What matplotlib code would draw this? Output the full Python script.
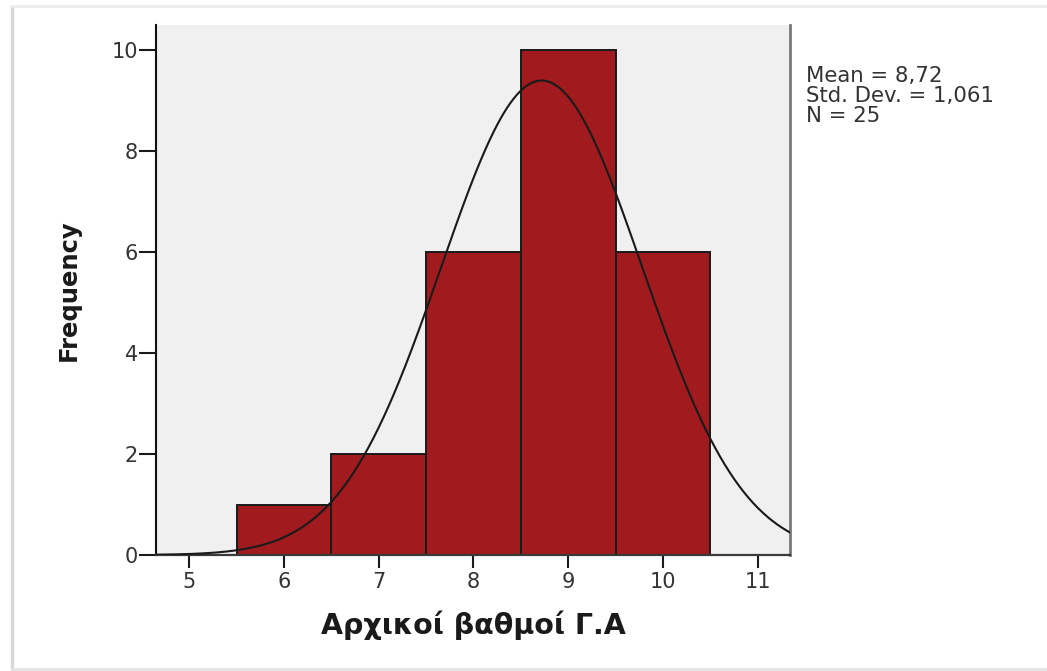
import numpy as np
import matplotlib
matplotlib.use("Agg")
import matplotlib.pyplot as plt
from matplotlib.lines import Line2D

# Data
bin_edges = [5.5, 6.5, 7.5, 8.5, 9.5, 10.5]
frequencies = [1, 2, 6, 10, 6]
mean_val = 8.72
std_val = 1.061
n_val = 25
x_ticks = [5, 6, 7, 8, 9, 10, 11]
y_ticks = [0, 2, 4, 6, 8, 10]
x_label = "Αρχικοί βαθμοί Γ.Α"
y_label = "Frequency"
stats_lines = ["Mean = 8,72", "Std. Dev. = 1,061", "N = 25"]

plt.rcParams['font.family'] = ['DejaVu Sans']

W, H = 1047, 671
fig = plt.figure(figsize=(W / 100, H / 100), dpi=100)
fig.patch.set_facecolor('white')

def fx(px):
    return px / W

def fy(py):
    return 1 - py / H

ax = fig.add_axes([fx(156), fy(555), fx(790) - fx(156), fy(25) - fy(555)])
ax.set_facecolor('#f0f0f0')

widths = np.diff(bin_edges)
ax.bar(bin_edges[:-1], frequencies, width=widths, align='edge',
       color='#a01a1e', edgecolor='#1a1a1a', linewidth=1.4, zorder=2)

xmin, xmax = 4.65, 11.34
xs = np.linspace(xmin, xmax, 400)
bw = widths[0]
ys = n_val * bw / (std_val * np.sqrt(2 * np.pi)) * np.exp(-0.5 * ((xs - mean_val) / std_val) ** 2)
ax.plot(xs, ys, color='#1a1a1a', linewidth=1.5, zorder=3)

ax.set_xlim(xmin, xmax)
ax.set_ylim(0, 10.5)
ax.set_xticks(x_ticks)
ax.set_yticks(y_ticks)
ax.tick_params(axis='both', direction='out', width=1.5, color='#1a1a1a',
               labelsize=15, labelcolor='#333333')
ax.tick_params(axis='x', length=9.4, pad=3)
ax.tick_params(axis='y', length=12, pad=1)

ax.spines['top'].set_visible(False)
ax.spines['left'].set_color('#111111')
ax.spines['left'].set_linewidth(1.5)
ax.spines['bottom'].set_color('#3a3a3a')
ax.spines['bottom'].set_linewidth(1.6)
ax.spines['right'].set_color('#7a7a7a')
ax.spines['right'].set_linewidth(2)

ax.set_xlabel(x_label, fontsize=20.5, fontweight='bold', color='#1a1a1a', labelpad=13)
ax.set_ylabel(y_label, fontsize=17.5, fontweight='bold', color='#1a1a1a', labelpad=22)

for txt, base in zip(stats_lines, [82, 102, 122]):
    fig.text(fx(806), fy(base), txt, fontsize=15.3, color='#333333',
             va='baseline', ha='left')

# outer frame
frame_col = '#d8d8d8'
fig.add_artist(Line2D([fx(12), fx(12)], [fy(7), fy(669)], color=frame_col, lw=2.5))
fig.add_artist(Line2D([fx(12), fx(1047)], [fy(6), fy(6)], color='#ececec', lw=2))
fig.add_artist(Line2D([fx(12), fx(1047)], [fy(669), fy(669)], color='#e4e4e4', lw=2))

fig.savefig('out.png', dpi=100, facecolor='white')
